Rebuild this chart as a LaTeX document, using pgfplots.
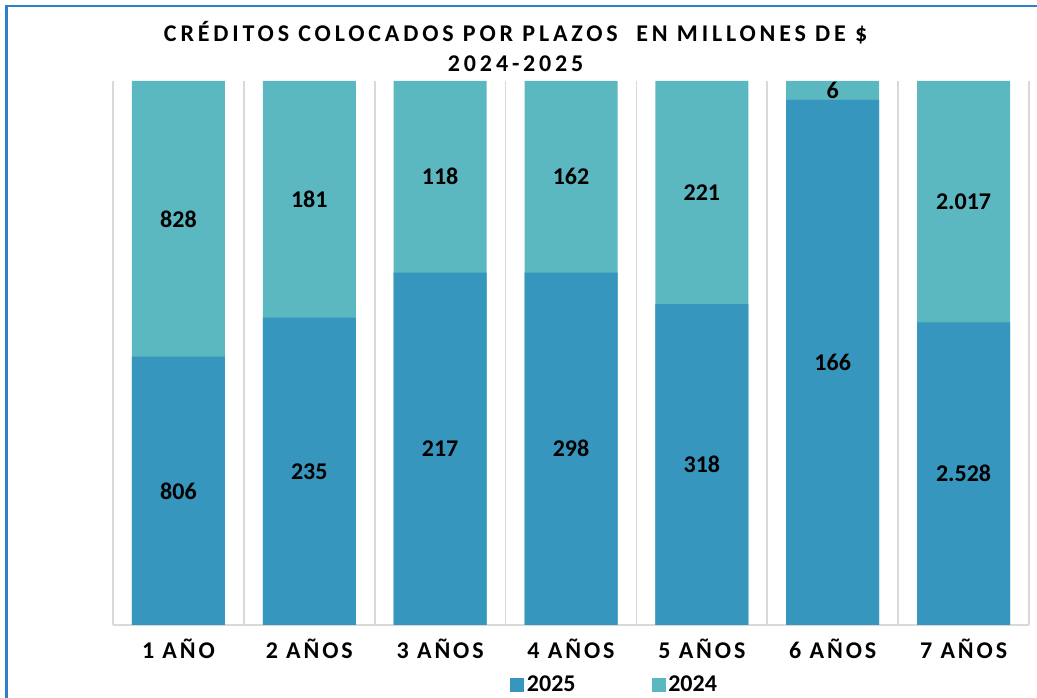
\documentclass[border=0pt]{standalone}
\usepackage{pgfplots}
\pgfplotsset{compat=1.18}
\usepackage{fontspec}
\setmainfont{Carlito}
\newfontfamily\spaced[LetterSpace=12]{Carlito}
\newfontfamily\titlespaced[LetterSpace=16]{Carlito}
\definecolor{cA}{RGB}{54,150,189}
\definecolor{cB}{RGB}{91,183,192}
\definecolor{framec}{RGB}{46,128,205}
\definecolor{gridc}{RGB}{217,217,217}
\begin{document}
\begin{tikzpicture}
\useasboundingbox (-84.75pt,-54.75pt) rectangle (693pt,468.75pt);
\begin{axis}[
  at={(0pt,0pt)}, anchor=south west,
  scale only axis, width=687pt, height=408pt,
  xmin=-0.5, xmax=6.5, ymin=0, ymax=100,
  axis line style={draw=none},
  xtick={0,...,6},
  xticklabels={1 AÑO, 2 AÑOS, 3 AÑOS, 4 AÑOS, 5 AÑOS, 6 AÑOS, 7 AÑOS},
  minor xtick={-0.5,0.5,1.5,2.5,3.5,4.5,5.5,6.5},
  xminorgrids, minor x grid style={gridc, line width=1.2pt},
  ytick={0}, yticklabels={}, ymajorgrids, y grid style={gridc, line width=1.2pt},
  major tick length=0, minor tick length=0,
  xticklabel style={font=\spaced\bfseries\fontsize{18}{20}\selectfont, yshift=-7pt},
  legend columns=2,
  reverse legend,
  legend style={at={(0.548,-0.110)}, anchor=center, draw=none, fill=none,
    font=\bfseries\fontsize{18}{20}\selectfont,
    /tikz/every even column/.append style={column sep=55pt}},
  legend image code/.code={\draw[#1,draw=none] (-3pt,-5.25pt) rectangle (7.5pt,5.25pt);},
]
\addplot[ybar, bar width=69.75pt, bar shift=0pt, fill=cB, draw=none]
  coordinates {(0,100) (1,100) (2,100) (3,100) (4,100) (5,100) (6,100)};
\addlegendentry{2024}
\addplot[ybar, bar width=69.75pt, bar shift=0pt, fill=cA, draw=none]
  coordinates {(0,49.33) (1,56.49) (2,64.78) (3,64.78) (4,59.00) (5,96.51) (6,55.62)};
\addlegendentry{2025}
\addplot[draw=none, forget plot, nodes near coords, point meta=explicit symbolic,
  every node near coord/.append style={anchor=center, font=\bfseries\fontsize{18}{20}\selectfont}]
  coordinates {(0,24.66)[806] (1,28.25)[235] (2,32.39)[217] (3,32.39)[298] (4,29.50)[318] (5,48.26)[166] (6,27.81)[2.528]};
\addplot[draw=none, forget plot, nodes near coords, point meta=explicit symbolic,
  every node near coord/.append style={anchor=center, font=\bfseries\fontsize{18}{20}\selectfont}]
  coordinates {(0,74.66)[828] (1,78.25)[181] (2,82.39)[118] (3,82.39)[162] (4,79.50)[221] (5,98.26)[6] (6,77.81)[2.017]};
\end{axis}
\draw[framec, line width=1.6pt] (-79.875pt,-60pt) -- (-79.875pt,464.25pt) -- (700pt,464.25pt);
\node[anchor=base, font=\titlespaced\bfseries\fontsize{18}{22}\selectfont] at (302pt,437.25pt) {CRÉDITOS COLOCADOS POR PLAZOS\ \ EN MILLONES DE \$};
\node[anchor=base, font=\titlespaced\bfseries\fontsize{18}{22}\selectfont] at (302pt,414.75pt) {2024-2025};
\end{tikzpicture}
\end{document}
